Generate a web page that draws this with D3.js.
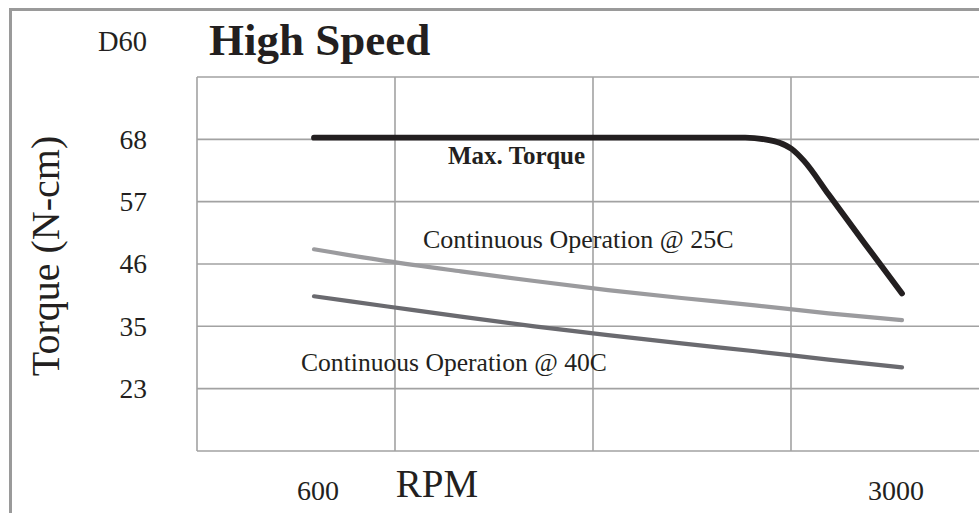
<!DOCTYPE html>
<html>
<head>
<meta charset="utf-8">
<script src="https://cdn.jsdelivr.net/npm/d3@7"></script>
<style>
  html, body { margin: 0; padding: 0; background: #fff; }
  svg { display: block; font-family: "Liberation Serif", "Times New Roman", Times, serif; }
</style>
</head>
<body>
<svg id="chart" width="979" height="513"></svg>
<script>
// ---- data ----
const modelLabel = "D60";
const chartTitle = "High Speed";
const yTickValues = [68, 57, 46, 35, 23];
const xTickValues = [600, 3000];

const rpmCont = [600, 900, 1200, 1500, 1800, 2100, 2400, 2700, 3000];
const cont25 = [48.6, 46.5, 44.7, 43.0, 41.4, 40.0, 38.7, 37.3, 36.1];
const cont40 = [40.3, 38.5, 36.7, 35.0, 33.3, 31.7, 30.2, 28.6, 27.1];

const rpmMax = [600, 2360, 2440, 2500, 2550, 2600, 2700, 2850, 3000];
const maxTorque = [68.3, 68.3, 68.0, 67.4, 66.3, 64.2, 58.3, 49.5, 40.8];

// ---- layout ----
const W = 979, H = 513;
const plot = { left: 197, top: 77, rows: 6, cols: 4 };
const rowH = 62.33, colW = 198;
const plotBottom = plot.top + plot.rows * rowH;
const plotRight = plot.left + plot.cols * colW;

const svg = d3.select("#chart");
svg.append("rect").attr("width", W).attr("height", H).attr("fill", "#fff");

// outer frame (right/bottom edges fall outside the picture)
svg.append("rect")
  .attr("x", 10.5).attr("y", 9.5)
  .attr("width", W + 20).attr("height", H + 20)
  .attr("fill", "none").attr("stroke", "#9a9a9a").attr("stroke-width", 3);

// scales
const x = d3.scaleLinear().domain([600, 3000]).range([314, 902]);
// tick values sit on equally spaced grid rows 1..5
const y = d3.scaleLinear()
  .domain(yTickValues)
  .range(yTickValues.map((d, i) => plot.top + (i + 1) * rowH));

// grid
const grid = svg.append("g").attr("stroke", "#a2a2a2").attr("stroke-width", 1.6).attr("fill", "none");
d3.range(plot.rows + 1).forEach(i => {
  const yy = plot.top + i * rowH;
  grid.append("line").attr("x1", plot.left).attr("x2", plotRight + 20).attr("y1", yy).attr("y2", yy);
});
d3.range(plot.cols + 1).forEach(j => {
  const xx = plot.left + j * colW;
  grid.append("line").attr("x1", xx).attr("x2", xx).attr("y1", plot.top).attr("y2", plotBottom);
});

// y tick labels
svg.append("g").selectAll("text").data(yTickValues).join("text")
  .attr("x", 147).attr("y", d => y(d) + 9.5)
  .attr("text-anchor", "end").attr("font-size", 27.5).attr("fill", "#231f20")
  .text(d => d);

// x tick labels
svg.append("g").selectAll("text").data(xTickValues).join("text")
  .attr("x", (d, i) => x(d) + (i === 0 ? 4 : -6)).attr("y", 500)
  .attr("text-anchor", "middle").attr("font-size", 28).attr("fill", "#231f20")
  .text(d => d);

// axis titles
svg.append("text").attr("x", 437).attr("y", 497).attr("text-anchor", "middle")
  .attr("font-size", 39).attr("fill", "#231f20").text("RPM");
svg.append("text")
  .attr("transform", "translate(59,256) rotate(-90)")
  .attr("text-anchor", "middle").attr("font-size", 40).attr("fill", "#231f20")
  .text("Torque (N-cm)");

// title & model
svg.append("text").attr("x", 98).attr("y", 51).attr("font-size", 28.5).attr("fill", "#231f20").text(modelLabel);
svg.append("text").attr("x", 209).attr("y", 55).attr("font-size", 45).attr("font-weight", "bold")
  .attr("fill", "#231f20").text(chartTitle);

// lines
const line = d3.line().x(d => x(d[0])).y(d => y(d[1])).curve(d3.curveMonotoneX);
const series = [
  { name: "25C", pts: d3.zip(rpmCont, cont25), color: "#9b9b9e", width: 4.2 },
  { name: "40C", pts: d3.zip(rpmCont, cont40), color: "#6a6a6f", width: 4.2 },
  { name: "max", pts: d3.zip(rpmMax, maxTorque), color: "#231f20", width: 5.8 }
];
svg.append("g").selectAll("path").data(series).join("path")
  .attr("d", d => line(d.pts))
  .attr("fill", "none").attr("stroke", d => d.color).attr("stroke-width", d => d.width)
  .attr("stroke-linecap", "round").attr("stroke-linejoin", "round");

// line labels
svg.append("text").attr("x", 448).attr("y", 164).attr("font-size", 25).attr("font-weight", "bold")
  .attr("fill", "#231f20").text("Max. Torque");
svg.append("text").attr("x", 423).attr("y", 248).attr("font-size", 26)
  .attr("fill", "#231f20").text("Continuous Operation @ 25C");
svg.append("text").attr("x", 301).attr("y", 371).attr("font-size", 25.6)
  .attr("fill", "#231f20").text("Continuous Operation @ 40C");
</script>
</body>
</html>
